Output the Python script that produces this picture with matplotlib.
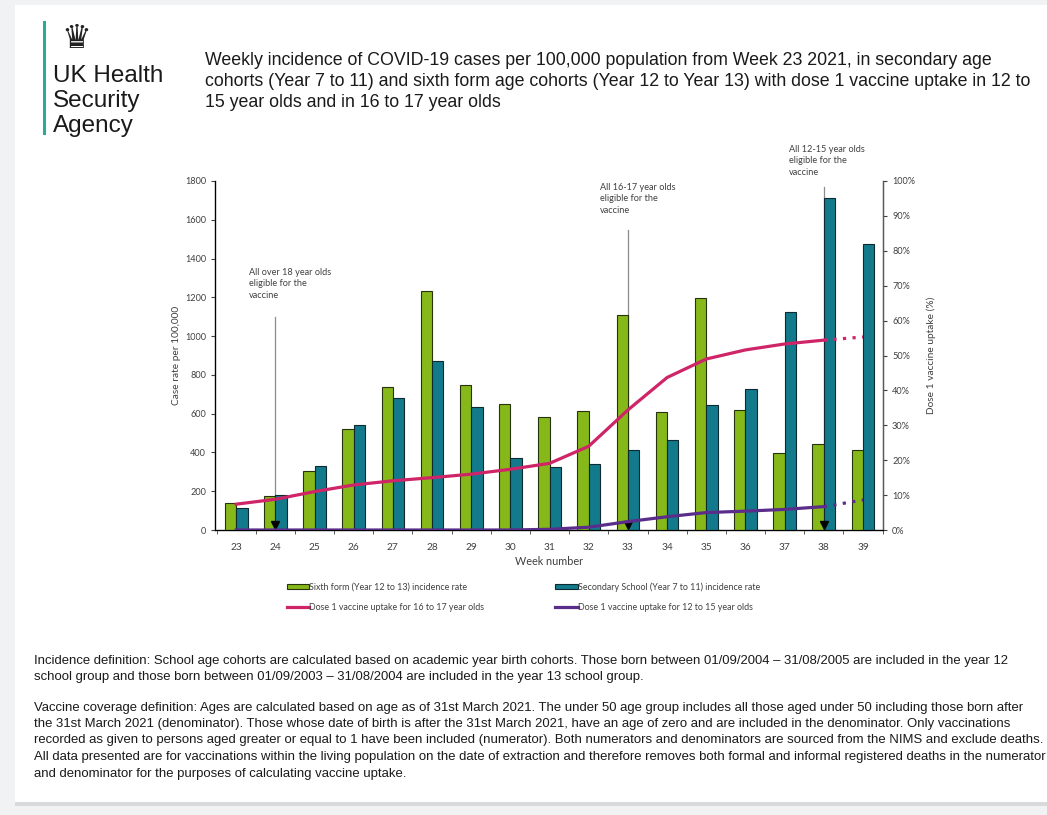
import numpy as np
import matplotlib
matplotlib.use("Agg")
import matplotlib.pyplot as plt
from matplotlib.lines import Line2D
from matplotlib.patches import Patch, Rectangle

# Dados
semanas = np.arange(23, 40)
sexto_ano = [138, 175, 304, 519, 736, 1233, 748, 648, 583, 615, 1109, 609, 1197, 619, 399, 442, 411]
secundaria = [112, 179, 328, 540, 683, 870, 636, 373, 323, 342, 414, 464, 645, 729, 1123, 1711, 1476]

# Cobertura da dose 1 (%), semanas 23 a 38 (linha cheia) + semana 39 (pontilhada)
dose_16_17 = [7.4, 8.8, 11.0, 12.9, 14.1, 15.0, 16.0, 17.4, 19.1, 24.0, 34.4, 43.7, 49.0, 51.6, 53.3, 54.4]
dose_16_17_s39 = 55.3
dose_12_15 = [0, 0, 0, 0, 0, 0, 0, 0, 0.2, 0.8, 2.4, 3.8, 5.0, 5.4, 5.9, 6.7]
dose_12_15_s39 = 8.6

# Marcos de elegibilidade: semana, topo da linha, posição e texto
marcos_semana = [24, 33, 38]
marcos_topo = [1100, 1548, 1770]
marcos_texto = ["All over 18 year olds\neligible for the\nvaccine",
                "All 16-17 year olds\neligible for the\nvaccine",
                "All 12-15 year olds\neligible for the\nvaccine"]
marcos_xy = [(23.32, 1352), (32.29, 1791), (37.1, 1987)]

titulo = ("Weekly incidence of COVID-19 cases per 100,000 population from Week 23 2021, in secondary age\n"
          "cohorts (Year 7 to 11) and sixth form age cohorts (Year 12 to Year 13) with dose 1 vaccine uptake in 12 to\n"
          "15 year olds and in 16 to 17 year olds")
rodape1 = ("Incidence definition: School age cohorts are calculated based on academic year birth cohorts. Those born between 01/09/2004 \u2013 31/08/2005 are included in the year 12\n"
           "school group and those born between 01/09/2003 \u2013 31/08/2004 are included in the year 13 school group.")
rodape2 = ("Vaccine coverage definition: Ages are calculated based on age as of 31st March 2021. The under 50 age group includes all those aged under 50 including those born after\n"
           "the 31st March 2021 (denominator). Those whose date of birth is after the 31st March 2021, have an age of zero and are included in the denominator. Only vaccinations\n"
           "recorded as given to persons aged greater or equal to 1 have been included (numerator). Both numerators and denominators are sourced from the NIMS and exclude deaths.\n"
           "All data presented are for vaccinations within the living population on the date of extraction and therefore removes both formal and informal registered deaths in the numerator\n"
           "and denominator for the purposes of calculating vaccine uptake.")

VERDE = '#86B81A'
AZUL = '#137A8C'
ROSA = '#CF2467'
ROXO = '#5B2D8A'
CINZA_TXT = '#404040'
fonte_graf = ['Lato', 'DejaVu Sans']
fonte_doc = ['Liberation Sans', 'DejaVu Sans']

fig = plt.figure(figsize=(10.47, 8.15), dpi=100)
fig.patch.set_facecolor('#F1F2F4')
# página branca
fig.patches.append(Rectangle((15 / 1047, 1 - 802 / 815), 1, 797 / 815, transform=fig.transFigure,
                             facecolor='white', edgecolor='none', zorder=-5))
fig.patches.append(Rectangle((15 / 1047, 1 - 806 / 815), 1, 4 / 815, transform=fig.transFigure,
                             facecolor='#D9DADC', edgecolor='none', zorder=-5))

# Logotipo
fig.add_artist(Line2D([44 / 1047, 44 / 1047], [1 - 22 / 815, 1 - 133 / 815], color='#2BA99A', lw=2.2))
fig.text(76 / 1047, 1 - 39 / 815, '\u265B', fontsize=24, color='#222222', ha='center', va='center',
         family=['DejaVu Sans'])
fig.text(53 / 1047, 1 - 101 / 815, 'UK Health\nSecurity\nAgency', fontsize=17.5, color='#1a1a1a',
         ha='left', va='center', linespacing=1.17, family=fonte_doc)

# Título
fig.text(205 / 1047, 1 - 81.5 / 815, titulo, fontsize=12.8, color='#1a1a1a', ha='left', va='center',
         linespacing=1.34, family=fonte_doc)

# Eixos
ax = fig.add_axes([215 / 1047, 1 - 530 / 815, 668 / 1047, 349 / 815])
largura = 0.29
ax.bar(semanas - largura / 2, sexto_ano, largura, color=VERDE, edgecolor='#26330c', linewidth=0.8, zorder=3)
ax.bar(semanas + largura / 2, secundaria, largura, color=AZUL, edgecolor='#0d2a30', linewidth=0.8, zorder=3)

for sem, topo, txt, (tx, ty) in zip(marcos_semana, marcos_topo, marcos_texto, marcos_xy):
    ax.plot([sem, sem], [0, topo], color='#8c8c8c', lw=0.9, zorder=2)
    ax.plot(sem, 28, marker='v', color='black', markersize=6, zorder=6, clip_on=False)
    ax.text(tx, ty, txt, fontsize=6.6, color=CINZA_TXT, ha='left', va='top', linespacing=1.35,
            family=fonte_graf, clip_on=False)

ax.set_xlim(22.46, 39.51)
ax.set_ylim(0, 1800)
ax.set_yticks(np.arange(0, 1801, 200))
ax.set_xticks(semanas)
ax.set_xticks(np.arange(22.5, 40, 1), minor=True)
ax.tick_params(axis='x', which='major', length=0, labelsize=7.3, labelcolor=CINZA_TXT, pad=9)
ax.tick_params(axis='x', which='minor', length=3, direction='out', color='#404040')
ax.tick_params(axis='y', length=3, labelsize=6.6, labelcolor=CINZA_TXT, color='#404040')
for lab in ax.get_xticklabels() + ax.get_yticklabels():
    lab.set_family(fonte_graf)
ax.spines['top'].set_visible(False)
for s in ('left', 'bottom', 'right'):
    ax.spines[s].set_color('#595959')
    ax.spines[s].set_linewidth(1.0)
ax.set_ylabel('Case rate per 100,000', fontsize=7.3, color=CINZA_TXT, family=fonte_graf, labelpad=3)
ax.set_xlabel('Week number', fontsize=7.8, color=CINZA_TXT, family=fonte_graf)
ax.xaxis.set_label_coords((549 - 215) / 668, -0.075)

# Eixo secundário (cobertura)
ax2 = ax.twinx()
ax2.set_ylim(0, 100)
ax2.set_yticks(np.arange(0, 101, 10))
ax2.set_yticklabels([f'{v}%' for v in range(0, 101, 10)])
ax2.tick_params(axis='y', length=3, labelsize=6.6, labelcolor=CINZA_TXT, color='#404040')
for lab in ax2.get_yticklabels():
    lab.set_family(fonte_graf)
ax2.spines['top'].set_visible(False)
ax2.spines['right'].set_color('#595959')
ax2.set_ylabel('Dose 1 vaccine uptake (%)', fontsize=7.3, color=CINZA_TXT, family=fonte_graf,
               rotation=90, labelpad=8)

sem_cheias = semanas[:len(dose_16_17)]
ax2.plot(sem_cheias, dose_16_17, color=ROSA, lw=2.3, solid_joinstyle='round', zorder=5)
ax2.plot([sem_cheias[-1], semanas[-1]], [dose_16_17[-1], dose_16_17_s39], color=ROSA, lw=2.3,
         linestyle=(0, (1, 2)), zorder=5)
ax2.plot(sem_cheias, dose_12_15, color=ROXO, lw=2.3, solid_joinstyle='round', zorder=5)
ax2.plot([sem_cheias[-1], semanas[-1]], [dose_12_15[-1], dose_12_15_s39], color=ROXO, lw=2.3,
         linestyle=(0, (1, 2)), zorder=5)

# Legenda
itens = [Patch(facecolor=VERDE, edgecolor='#26330c', linewidth=0.8),
         Line2D([], [], color=ROSA, lw=2.3),
         Patch(facecolor=AZUL, edgecolor='#0d2a30', linewidth=0.8),
         Line2D([], [], color=ROXO, lw=2.3)]
nomes = ['Sixth form (Year 12 to 13) incidence rate',
         'Dose 1 vaccine uptake for 16 to 17 year olds',
         'Secondary School (Year 7 to 11) incidence rate',
         'Dose 1 vaccine uptake for 12 to 15 year olds']
leg = fig.legend(itens, nomes, ncol=2, loc='upper left', bbox_to_anchor=(279 / 1047, 1 - 574 / 815),
                 frameon=False, prop={'family': fonte_graf, 'size': 6.4}, handlelength=2.5,
                 handleheight=0.55, handletextpad=0.0, columnspacing=8.0, labelspacing=1.3,
                 labelcolor=CINZA_TXT)

# Rodapé
fig.text(34 / 1047, 1 - 669 / 815, rodape1, fontsize=9.45, color='#1a1a1a', ha='left', va='center',
         linespacing=1.5, family=fonte_doc)
fig.text(34 / 1047, 1 - 740.5 / 815, rodape2, fontsize=9.45, color='#1a1a1a', ha='left', va='center',
         linespacing=1.5, family=fonte_doc)

fig.savefig('out.png', dpi=100, facecolor=fig.get_facecolor())
